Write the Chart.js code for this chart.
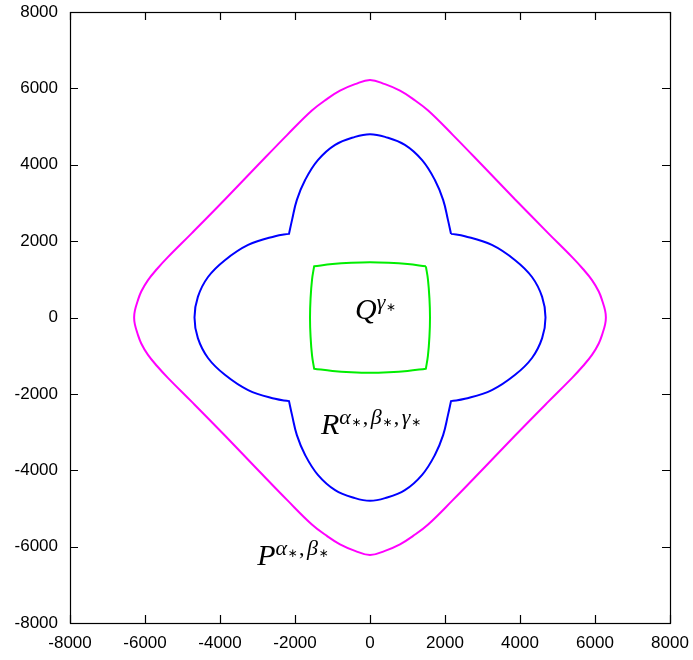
<!DOCTYPE html>
<html>
<head>
<meta charset="utf-8">
<script src="https://cdn.jsdelivr.net/npm/chart.js@4/dist/chart.umd.min.js"></script>
<style>
  html, body { margin: 0; padding: 0; background: #fff; }
  #wrap { width: 693px; height: 660px; position: relative; }
</style>
</head>
<body>
<div id="wrap"><canvas id="c"></canvas></div>
<script>
// ---- data ----
const axisMin = -8000;
const axisMax = 8000;
const tickStep = 2000;

// outer curve P (magenta), closed, starts mid-edge
const curveP = [
  [3870,3090],[4750,2210],[5390,1580],[5680,1270],[5920,980],[6100,680],[6200,420],[6270,180],[6290,0],
  [6270,-180],[6200,-420],[6100,-680],[5920,-980],[5680,-1270],[5390,-1580],[4750,-2210],[3870,-3090],
  [3000,-3980],[2200,-4790],[1550,-5420],[1150,-5720],[800,-5940],[400,-6110],[0,-6220],
  [-400,-6110],[-800,-5940],[-1150,-5720],[-1550,-5420],[-2200,-4790],[-3000,-3980],[-3870,-3090],
  [-4750,-2210],[-5390,-1580],[-5680,-1270],[-5920,-980],[-6100,-680],[-6200,-420],[-6270,-180],[-6290,0],
  [-6270,180],[-6200,420],[-6100,680],[-5920,980],[-5680,1270],[-5390,1580],[-4750,2210],[-3870,3090],
  [-3000,3980],[-2200,4790],[-1550,5420],[-1150,5720],[-800,5940],[-400,6110],[0,6220],
  [400,6110],[800,5940],[1150,5720],[1550,5420],[2200,4790],[3000,3980],[3870,3090]
];

// middle curve R (blue), closed, starts at a cusp (cusps listed twice)
const curveR = [
  [2160,2190],[2530,2130],[3250,1900],[3870,1500],[4320,1060],[4590,540],[4680,0],
  [4590,-540],[4320,-1060],[3870,-1500],[3250,-1900],[2530,-2130],[2160,-2190],[2160,-2190],
  [2080,-2550],[1950,-3080],[1730,-3600],[1390,-4120],[930,-4520],[400,-4730],[0,-4800],
  [-400,-4730],[-930,-4520],[-1390,-4120],[-1730,-3600],[-1950,-3080],[-2080,-2550],[-2160,-2190],[-2160,-2190],
  [-2530,-2130],[-3250,-1900],[-3870,-1500],[-4320,-1060],[-4590,-540],[-4680,0],
  [-4590,540],[-4320,1060],[-3870,1500],[-3250,1900],[-2530,2130],[-2160,2190],[-2160,2190],
  [-2080,2550],[-1950,3080],[-1730,3600],[-1390,4120],[-930,4520],[-400,4730],[0,4800],
  [400,4730],[930,4520],[1390,4120],[1730,3600],[1950,3080],[2080,2550],[2160,2190]
];

// inner curve Q (green), closed, starts at a corner (corners listed twice)
const curveQ = [
  [1490,1340],[1545,1000],[1585,500],[1600,0],[1585,-500],[1545,-1000],[1490,-1340],[1490,-1340],
  [1000,-1400],[500,-1435],[0,-1450],[-500,-1435],[-1000,-1400],[-1490,-1340],[-1490,-1340],
  [-1545,-1000],[-1585,-500],[-1600,0],[-1585,500],[-1545,1000],[-1490,1340],[-1490,1340],
  [-1000,1400],[-500,1435],[0,1450],[500,1435],[1000,1400],[1490,1340]
];

// curve labels
const labelMain = ['P', 'R', 'Q'];
const labelSups = [['α','β'], ['α','β','γ'], ['γ']];

// ---- chart ----
const labelAnchors = [[-3010,-6480],[-1310,-3060],[-400,-40]];
const toXY = arr => arr.map(p => ({x: p[0], y: p[1]}));

const framePlugin = {
  id: 'frame',
  afterDatasetsDraw(chart) {
    const ctx = chart.ctx;
    const a = chart.chartArea;
    const xs = chart.scales.x, ys = chart.scales.y;
    ctx.save();
    ctx.strokeStyle = '#000';
    ctx.lineWidth = 1.2;
    ctx.beginPath();
    const L = 8;
    xs.ticks.forEach(t => {
      const px = Math.round(xs.getPixelForValue(t.value)) + 0.5;
      ctx.moveTo(px, a.bottom); ctx.lineTo(px, a.bottom - L);
      ctx.moveTo(px, a.top); ctx.lineTo(px, a.top + L);
    });
    ys.ticks.forEach(t => {
      const py = Math.round(ys.getPixelForValue(t.value)) + 0.5;
      ctx.moveTo(a.left, py); ctx.lineTo(a.left + L, py);
      ctx.moveTo(a.right, py); ctx.lineTo(a.right - L, py);
    });
    ctx.stroke();
    ctx.strokeRect(a.left + 0.5, a.top + 0.5, a.right - a.left, a.bottom - a.top);

    // math labels
    ctx.fillStyle = '#000';
    ctx.textBaseline = 'alphabetic';
    ctx.textAlign = 'left';
    labelMain.forEach((m, i) => {
      const x = xs.getPixelForValue(labelAnchors[i][0]);
      const y = ys.getPixelForValue(labelAnchors[i][1]);
      ctx.font = 'italic 30px "Liberation Serif"';
      ctx.fillText(m, x, y);
      let cx = x + ctx.measureText(m).width;
      const sups = labelSups[i];
      sups.forEach((g, j) => {
        ctx.font = 'italic 22px "Liberation Serif"';
        ctx.fillText(g, cx, y - 10);
        cx += ctx.measureText(g).width + 0.5;
        ctx.font = '12px "DejaVu Sans"';
        ctx.fillText('∗', cx, y - 8);
        cx += ctx.measureText('∗').width + 1.5;
        if (j < sups.length - 1) {
          ctx.font = '22px "Liberation Serif"';
          ctx.fillText(',', cx, y - 10);
          cx += ctx.measureText(',').width + 2.5;
        }
      });
    });
    ctx.restore();
  }
};

const tickFont = {family: '"Liberation Sans", Arial, sans-serif', size: 17};
const plainLabel = v => String(v);

new Chart(document.getElementById('c'), {
  type: 'scatter',
  data: {
    datasets: [
      {data: toXY(curveP), borderColor: '#ff00ff'},
      {data: toXY(curveR), borderColor: '#0000ff'},
      {data: toXY(curveQ), borderColor: '#00ee00'}
    ].map(d => Object.assign(d, {showLine: true, pointRadius: 0, borderWidth: 2, fill: false, tension: 0.4}))
  },
  options: {
    responsive: true,
    maintainAspectRatio: false,
    animation: false,
    devicePixelRatio: 1,
    layout: {padding: {top: 12, right: 23, left: 0, bottom: 0}},
    plugins: {legend: {display: false}, tooltip: {enabled: false}},
    scales: {
      x: {
        type: 'linear', min: axisMin, max: axisMax,
        grid: {display: false, drawTicks: false},
        border: {display: false},
        ticks: {stepSize: tickStep, color: '#000', font: tickFont, padding: 10, maxRotation: 0, callback: plainLabel},
        afterFit: s => { s.height = 37; s.paddingLeft = 0; s.paddingRight = 0; }
      },
      y: {
        type: 'linear', min: axisMin, max: axisMax,
        grid: {display: false, drawTicks: false},
        border: {display: false},
        ticks: {stepSize: tickStep, color: '#000', font: tickFont, padding: 12, callback: plainLabel},
        afterFit: s => { s.width = 70; s.paddingTop = 0; s.paddingBottom = 0; }
      }
    }
  },
  plugins: [framePlugin]
});
</script>
</body>
</html>
